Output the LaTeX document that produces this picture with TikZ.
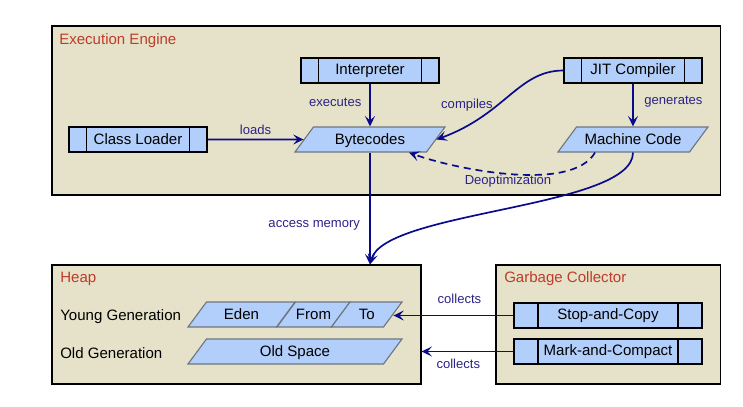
\documentclass[tikz,border=0pt]{standalone}
\usepackage{fontspec}
\setmainfont{Liberation Sans}
\usetikzlibrary{shapes.geometric,arrows.meta,positioning,calc}
\definecolor{enginebg}{RGB}{229,226,201}
\definecolor{boxblue}{RGB}{178,206,250}
\definecolor{titlered}{RGB}{190,60,40}
\definecolor{arrownavy}{RGB}{10,10,140}
\definecolor{lbltext}{RGB}{45,35,135}
\definecolor{paraedge}{RGB}{110,118,128}

\begin{document}
\begin{tikzpicture}[
    area/.style={rectangle, draw=black, fill=enginebg, line width=0.8pt, inner sep=0pt},
    areatitle/.style={anchor=west, inner sep=0pt, text=titlered, font=\fontsize{10.7}{12}\selectfont},
    rowlabel/.style={anchor=west, inner sep=0pt, font=\fontsize{10.7}{12}\selectfont},
    procbox/.style={rectangle, draw=black, fill=boxblue, line width=0.8pt, minimum width=3.45cm,
                 minimum height=0.625cm, inner sep=0pt, font=\fontsize{10.7}{12}\selectfont,
                 path picture={
                   \draw[line width=0.8pt] ([xshift=#1]path picture bounding box.north west) -- ([xshift=#1]path picture bounding box.south west);
                   \draw[line width=0.8pt] ([xshift=-#1]path picture bounding box.north east) -- ([xshift=-#1]path picture bounding box.south east);}},
    procbox/.default=0.44cm,
    databox/.style={trapezium, trapezium left angle=53.5, trapezium right angle=126.5, trapezium stretches body,
                 draw=paraedge, fill=boxblue, line width=0.8pt, inner sep=0pt,
                 text height=0.435cm, text depth=0.19cm, font=\fontsize{10.7}{12}\selectfont},
    arr/.style={-{Stealth[length=2.6mm, width=2.5mm, inset=1.1mm]}, line width=1.2pt, arrownavy},
    lbl/.style={font=\fontsize{9.3}{11}\selectfont, text=lbltext, inner sep=1pt}
]
\useasboundingbox (0,0) rectangle (18.575,-10.15);

% containers
\node[area, minimum width=16.7125cm, minimum height=4.225cm] (engine) at (9.65625,-2.7625) {};
\node[area, minimum width=9.225cm, minimum height=2.975cm]   (heap)   at (5.9125,-8.1125) {};
\node[area, minimum width=5.6125cm, minimum height=2.975cm]  (gc)     at (15.20625,-8.1125) {};
\node[areatitle] (enginetitle) at (1.475,-1.025) {Execution Engine};
\node[areatitle] (heaptitle)   at (1.5,-6.975)   {Heap};
\node[areatitle] (gctitle)     at (12.6,-6.975)  {Garbage Collector};

% execution engine
\node[procbox] (interp) at (9.25,-1.7625)   {Interpreter};
\node[procbox] (jit)    at (15.825,-1.7625) {JIT Compiler};
\node[procbox] (loader) at (3.45,-3.4875)   {Class Loader};
\node[databox, minimum width=3.75cm] (bytecodes) at (9.25,-3.4875)   {Bytecodes};
\node[databox, minimum width=3.75cm] (machine)   at (15.825,-3.4875) {Machine Code};

% heap
\node[rowlabel] (younglbl) at (1.5,-7.925) {Young Generation};
\node[rowlabel] (oldlbl)   at (1.5,-8.825) {Old Generation};
\node[databox, minimum width=2.675cm]  (eden)      at (6.0375,-7.8625)  {Eden};
\node[databox, minimum width=1.825cm]  (fromspace) at (7.8375,-7.8625)  {From};
\node[databox, minimum width=1.7625cm] (tospace)   at (9.16875,-7.8625) {To};
\node[databox, minimum width=5.35cm]   (oldspace)  at (7.375,-8.7875)   {Old Space};

% garbage collector
\node[procbox=0.6cm, minimum width=4.7cm] (stopcopy)    at (15.2,-7.8875) {Stop-and-Copy};
\node[procbox=0.6cm, minimum width=4.7cm] (markcompact) at (15.2,-8.7875) {Mark-and-Compact};

% connectors
\draw[arr] (interp) -- node[lbl, left=4.5pt, pos=0.43] (lblexec) {executes} (bytecodes);
\draw[arr] (loader) -- node[lbl, above=2pt] (lblloads) {loads} (bytecodes);
\draw[arr] (jit.west) to[out=180, in=20, out looseness=0.8, in looseness=1.3] (bytecodes.east);
\node[lbl] (lblcomp) at (11.675,-2.625) {compiles};
\draw[arr] (jit) -- node[lbl, right=6.5pt, pos=0.43] (lblgen) {generates} (machine);
\draw[arr, dash pattern=on 5pt off 3.5pt] ([xshift=-0.95cm]machine.south) to[out=-120, in=-20, looseness=0.65] ([xshift=0.975cm]bytecodes.south);
\node[lbl] (lbldeopt) at (12.7,-4.525) {Deoptimization};
\draw[arr] (bytecodes.south) -- node[lbl, left=5.5pt, pos=0.65] (lblaccess) {access memory} (bytecodes.south |- heap.north);
\draw[arr] (machine.south) to[out=-90, in=75, looseness=0.5] (bytecodes.south |- heap.north);
\draw[arr] (stopcopy.west) -- node[lbl, above=7pt, pos=0.45] (lblcol1) {collects} (stopcopy.west -| tospace.east);
\draw[arr] (markcompact.west) -- node[lbl, below=3.5pt, pos=0.6] (lblcol2) {collects} (markcompact.west -| heap.east);
\end{tikzpicture}
\end{document}
